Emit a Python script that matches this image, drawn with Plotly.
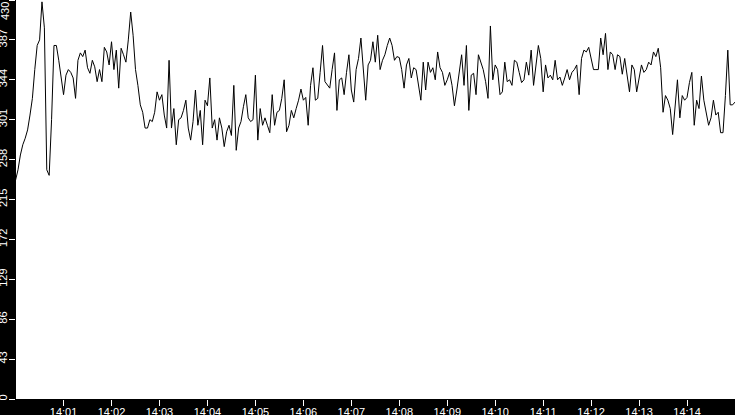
import pandas as pd
import plotly.graph_objects as go

# one reading every 3 seconds, 14:00:00 - 14:15:00
start_time = '2024-01-01 14:00:00'
end_time = '2024-01-01 14:15:00'
sample_step = '3s'

readings = [
    236, 247, 263, 274, 281, 290, 306, 324, 355, 381,
    387, 428, 400, 247, 241, 301, 381, 381, 365, 349,
    328, 349, 355, 352, 346, 324, 365, 373, 369, 376,
    357, 351, 365, 358, 342, 355, 342, 379, 374, 360,
    385, 355, 376, 335, 378, 371, 363, 387, 417, 392,
    355, 338, 317, 309, 292, 292, 301, 299, 309, 331,
    322, 328, 306, 292, 365, 292, 313, 274, 301, 303,
    311, 322, 292, 279, 299, 333, 295, 311, 274, 322,
    316, 346, 292, 301, 279, 303, 292, 272, 288, 295,
    284, 338, 268, 292, 299, 315, 328, 303, 299, 301,
    349, 279, 313, 295, 303, 295, 287, 328, 295, 309,
    311, 324, 344, 288, 295, 311, 303, 313, 322, 334,
    322, 325, 295, 338, 357, 322, 324, 352, 381, 342,
    338, 335, 355, 373, 311, 344, 346, 328, 352, 371,
    333, 320, 355, 367, 389, 352, 322, 360, 365, 385,
    363, 392, 355, 365, 371, 381, 389, 381, 365, 369,
    368, 355, 335, 360, 367, 346, 357, 355, 338, 322,
    363, 333, 363, 352, 357, 344, 374, 357, 352, 338,
    344, 352, 338, 316, 333, 355, 371, 338, 381, 311,
    349, 351, 328, 371, 363, 355, 342, 324, 402, 344,
    360, 355, 328, 331, 363, 342, 344, 338, 365, 363,
    352, 341, 344, 363, 349, 376, 338, 363, 381, 367,
    331, 360, 346, 349, 344, 365, 344, 347, 338, 346,
    355, 344, 352, 355, 360, 328, 367, 376, 374, 379,
    365, 355, 355, 355, 389, 371, 394, 355, 374, 371,
    355, 371, 369, 350, 367, 349, 331, 360, 355, 331,
    344, 360, 352, 355, 363, 360, 374, 369, 378, 357,
    309, 327, 322, 313, 285, 313, 344, 303, 327, 322,
    325, 341, 352, 295, 322, 313, 348, 322, 306, 295,
    303, 322, 306, 309, 287, 287, 327, 376, 317, 317,
    320,
]

y_ticks = [0, 43, 86, 129, 172, 215, 258, 301, 344, 387, 430]
x_ticks = ['14:01', '14:02', '14:03', '14:04', '14:05', '14:06', '14:07',
           '14:08', '14:09', '14:10', '14:11', '14:12', '14:13', '14:14']

times = pd.date_range(start_time, periods=len(readings), freq=sample_step)
x_tickvals = ['2024-01-01 ' + t + ':00' for t in x_ticks]

# top label would be cut at the page edge, so it is drawn as an annotation
y_ticktext = [str(v) for v in y_ticks[:-1]] + ['']

fig = go.Figure(go.Scatter(
    x=times,
    y=readings,
    mode='lines',
    line=dict(color='black', width=1),
    hoverinfo='skip',
))

axis_font = dict(family='Liberation Sans, Arial, sans-serif', size=11, color='white')

fig.update_layout(
    width=735,
    height=415,
    margin=dict(l=16, r=0, t=0, b=16, pad=0),
    paper_bgcolor='black',
    plot_bgcolor='white',
    showlegend=False,
    xaxis=dict(
        type='date',
        range=['2024-01-01 14:00:00.5', end_time],
        tickvals=x_tickvals,
        ticktext=x_ticks,
        ticks='outside',
        ticklen=6,
        tickwidth=1,
        tickcolor='white',
        tickfont=axis_font,
        ticklabelstandoff=-3,
        showgrid=False,
        zeroline=False,
        showline=False,
        automargin=False,
    ),
    yaxis=dict(
        range=[0, 430],
        tickvals=y_ticks,
        ticktext=y_ticktext,
        tickangle=-90,
        ticks='outside',
        ticklen=6,
        tickwidth=1,
        tickcolor='white',
        tickfont=axis_font,
        ticklabelstandoff=-2,
        showgrid=False,
        zeroline=False,
        showline=False,
        automargin=False,
    ),
)

fig.add_annotation(
    text=str(y_ticks[-1]),
    xref='paper', yref='y',
    x=0, y=y_ticks[-1],
    xshift=-11,
    textangle=-90,
    showarrow=False,
    xanchor='center', yanchor='top',
    font=axis_font,
)

# drop the browser's default page margin so the figure sits at the corner
fig.write_html(
    'out.html',
    config={'displayModeBar': False},
    post_script="document.body.style.margin='0';",
)
